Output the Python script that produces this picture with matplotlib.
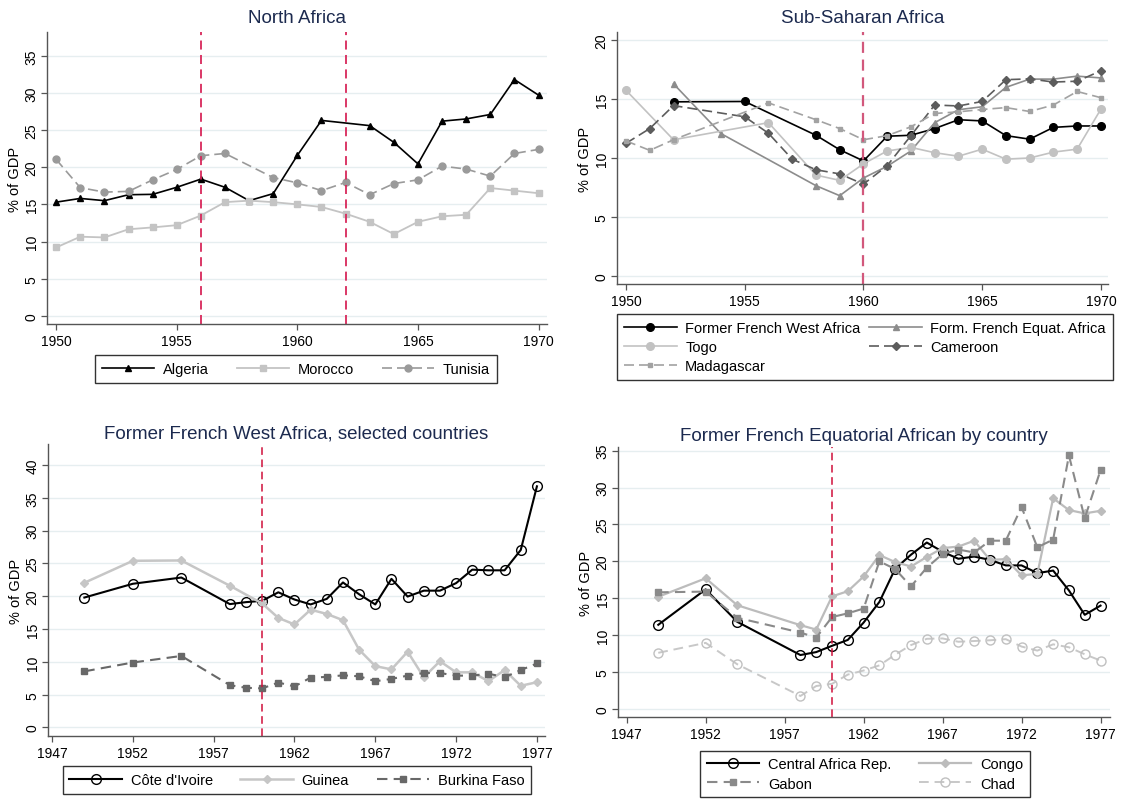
import matplotlib
matplotlib.use("Agg")
import numpy as np
import matplotlib.pyplot as plt

plt.rcParams['font.family'] = ['Liberation Sans', 'DejaVu Sans']

# ---- North Africa ----
na_years = list(range(1950, 1971))
algeria_years = [y for y in na_years if y != 1962]
algeria = [15.3, 15.8, 15.5, 16.3, 16.35, 17.3, 18.4, 17.3, 15.5, 16.45, 21.6, 26.3,
           25.6, 23.35, 20.45, 26.2, 26.5, 27.1, 31.8, 29.7]
morocco = [9.2, 10.65, 10.55, 11.65, 11.9, 12.2, 13.5, 15.3, 15.5, 15.3, 15.0, 14.65,
           13.75, 12.65, 11.0, 12.65, 13.4, 13.6, 17.2, 16.85, 16.5]
tunisia_years = [y for y in na_years if y != 1958]
tunisia = [21.05, 17.25, 16.65, 16.75, 18.3, 19.7, 21.55, 21.85, 18.6, 17.9, 16.85,
           17.95, 16.3, 17.8, 18.3, 20.15, 19.75, 18.8, 21.85, 22.4]

# ---- Sub-Saharan Africa ----
ffwa_years = [1952, 1955, 1958, 1959] + list(range(1960, 1971))
ffwa = [14.77, 14.8, 11.93, 10.7, 9.75, 11.85, 11.93, 12.5, 13.25, 13.15, 11.9, 11.6,
        12.6, 12.72, 12.72]
ffea_years = [1952, 1954, 1958, 1959] + list(range(1960, 1971))
ffea = [16.3, 12.07, 7.65, 6.8, 8.3, 9.3, 10.6, 13.0, 14.1, 14.35, 16.0, 16.7, 16.7,
        16.95, 16.8]
togo_years = [1950, 1952, 1956, 1958, 1959] + list(range(1960, 1971))
togo = [15.75, 11.55, 13.0, 8.55, 8.1, 9.5, 10.6, 10.9, 10.45, 10.15, 10.75, 9.9, 10.0,
        10.5, 10.75, 14.15]
cameroon_years = [1950, 1951, 1952, 1955, 1956, 1957, 1958, 1959] + list(range(1960, 1971))
cameroon = [11.25, 12.5, 14.45, 13.5, 12.1, 9.9, 9.0, 8.65, 7.78, 9.35, 11.9, 14.5,
            14.42, 14.8, 16.65, 16.72, 16.45, 16.52, 17.4]
madagascar_years = [1950, 1951, 1952, 1956, 1958, 1959] + list(range(1960, 1971))
madagascar = [11.45, 10.65, 11.55, 14.68, 13.25, 12.5, 11.55, 11.9, 12.65, 13.78, 13.92,
              14.12, 14.28, 13.95, 14.5, 15.65, 15.12]

# ---- Former French West Africa, selected countries ----
fwa_years = [1949, 1952, 1955] + list(range(1958, 1978))
cote_ivoire = [19.8, 21.9, 22.85, 18.8, 19.1, 19.3, 20.6, 19.5, 18.75, 19.6, 22.1, 20.3,
               18.75, 22.65, 19.95, 20.85, 20.85, 22.0, 24.05, 23.95, 23.95, 27.05, 36.75]
guinea_years = [1949, 1952, 1955, 1958] + list(range(1960, 1978))
guinea = [22.05, 25.4, 25.45, 21.6, 18.9, 16.7, 15.7, 17.95, 17.3, 16.35, 11.85, 9.35,
          8.85, 11.55, 7.65, 10.1, 8.4, 8.4, 7.05, 8.75, 6.35, 6.9]
burkina = [8.55, 9.9, 10.9, 6.45, 6.05, 5.95, 6.85, 6.25, 7.6, 7.7, 7.95, 7.8, 7.05,
           7.4, 7.9, 8.3, 8.3, 7.9, 7.9, 8.2, 7.65, 8.75, 9.75]

# ---- Former French Equatorial Africa by country ----
fea_years = [1949, 1952, 1954] + list(range(1958, 1978))
car = [11.4, 16.2, 11.8, 7.3, 7.7, 8.55, 9.35, 11.7, 14.5, 19.0, 20.9, 22.55, 21.3,
       20.35, 20.65, 20.2, 19.45, 19.45, 18.4, 18.75, 16.05, 12.75, 14.0]
congo = [15.2, 17.7, 14.05, 11.35, 10.75, 15.25, 15.95, 17.95, 20.85, 19.9, 19.3, 20.6,
         21.8, 22.0, 22.8, 20.2, 20.3, 18.1, 18.3, 28.55, 26.95, 26.5, 26.85]
gabon = [15.8, 15.9, 12.35, 10.35, 9.65, 12.45, 12.95, 13.6, 20.0, 18.95, 16.6, 19.15,
         21.0, 21.6, 21.2, 22.8, 22.8, 27.35, 21.9, 22.95, 34.35, 25.85, 32.35]
chad = [7.6, 8.95, 6.05, 1.75, 3.1, 3.4, 4.65, 5.2, 5.9, 7.35, 8.65, 9.5, 9.55, 9.1,
        9.2, 9.3, 9.45, 8.45, 7.9, 8.75, 8.35, 7.4, 6.55]

W, H = 1125, 804
fig = plt.figure(figsize=(W / 100, H / 100), dpi=100)

TITLE_C = '#1c2a4f'
GRID_C = '#e6eef0'


def box(l, t, r, b):
    return [l / W, 1 - b / H, (r - l) / W, (b - t) / H]


def style(ax, xlim, xticks, ylim, yticks):
    ax.set_xlim(*xlim)
    ax.set_ylim(*ylim)
    ax.set_xticks(xticks)
    ax.set_yticks(yticks)
    for s in ['top', 'right']:
        ax.spines[s].set_visible(False)
    for s in ['left', 'bottom']:
        ax.spines[s].set_color('#555555')
        ax.spines[s].set_linewidth(1.0)
    ax.yaxis.grid(True, color=GRID_C, lw=1.0)
    ax.set_axisbelow(True)
    ax.tick_params(direction='out', length=4, width=0.9, color='#555555', labelsize=10)
    ax.tick_params(axis='y', pad=2)
    plt.setp(ax.get_yticklabels(), rotation=90, va='center')
    ax.set_ylabel('% of GDP', fontsize=10.5, labelpad=2)


def leg(handles, cx, cy, ncol, colsp):
    lg = fig.legend(handles=handles, loc='center', bbox_to_anchor=(cx / W, 1 - cy / H),
                    ncol=ncol, fontsize=10.5, frameon=True, fancybox=False,
                    edgecolor='black', handlelength=3.6, columnspacing=colsp,
                    labelspacing=0.35, borderpad=0.45, handletextpad=0.6,
                    borderaxespad=0)
    lg.get_frame().set_linewidth(1.0)


# Panel 1
ax1 = fig.add_axes(box(47, 33, 547, 325))
a1, = ax1.plot(algeria_years, algeria, '-^', color='black', ms=5, lw=1.2, label='Algeria')
m1, = ax1.plot(na_years, morocco, '-s', color='#c4c4c4', ms=5, lw=1.3, label='Morocco')
t1, = ax1.plot(tunisia_years, tunisia, '--o', color='#9a9a9a', ms=5, lw=1.2,
               dashes=(6, 3), label='Tunisia')
for x in [1956, 1962]:
    ax1.axvline(x, color='#d8275a', lw=1.3, ls=(0, (5, 3)))
style(ax1, (1949.62, 1970.35), [1950, 1955, 1960, 1965, 1970], (-1.1, 38.2), range(0, 36, 5))
ax1.set_title('North Africa', fontsize=13.5, color=TITLE_C, pad=7)
leg([a1, m1, t1], 296, 370, 3, 1.9)

# Panel 2
ax2 = fig.add_axes(box(617, 33, 1108, 285))
h_ffwa, = ax2.plot(ffwa_years, ffwa, '-o', color='black', ms=5.5, lw=1.2,
                   label='Former French West Africa')
h_ffea, = ax2.plot(ffea_years, ffea, '-^', color='#8c8c8c', ms=4, lw=1.2,
                   label='Form. French Equat. Africa')
h_togo, = ax2.plot(togo_years, togo, '-o', color='#c2c2c2', ms=5.5, lw=1.2, label='Togo')
h_cam, = ax2.plot(cameroon_years, cameroon, '--D', color='#5c5c5c', ms=4, lw=1.2,
                  dashes=(6, 3), label='Cameroon')
h_mad, = ax2.plot(madagascar_years, madagascar, '--s', color='#a2a2a2', ms=3.5, lw=1.2,
                  dashes=(6, 3), label='Madagascar')
ax2.axvline(1960, color='#d2587c', lw=1.6, ls=(0, (5, 3)))
style(ax2, (1949.62, 1970.3), [1950, 1955, 1960, 1965, 1970], (-0.7, 20.7), range(0, 21, 5))
ax2.set_title('Sub-Saharan Africa', fontsize=13.5, color=TITLE_C, pad=7)
leg([h_ffwa, h_togo, h_mad, h_ffea, h_cam], 865, 348, 2, 0.6)

# Panel 3
ax3 = fig.add_axes(box(48, 445, 545, 737))
c3, = ax3.plot(fwa_years, cote_ivoire, '-o', color='black', mfc='none', mec='black',
               ms=7, lw=1.5, label="Côte d'Ivoire")
g3, = ax3.plot(guinea_years, guinea, '-D', color='#c6c6c6', ms=4.5, lw=1.8, label='Guinea')
b3, = ax3.plot(fwa_years, burkina, '--s', color='#686868', ms=5, lw=1.5,
               dashes=(5, 3), label='Burkina Faso')
ax3.axvline(1960, color='#d0103a', lw=1.1, ls=(0, (5, 3)))
style(ax3, (1946.75, 1977.5), range(1947, 1978, 5), (-1.3, 43.2), range(0, 41, 5))
ax3.set_title('Former French West Africa, selected countries', fontsize=13.5,
              color=TITLE_C, pad=5)
leg([c3, g3, b3], 297, 781, 3, 1.9)

# Panel 4
ax4 = fig.add_axes(box(618, 448, 1110, 718))
c4, = ax4.plot(fea_years, car, '-o', color='black', mfc='none', mec='black', ms=7,
               lw=1.5, label='Central Africa Rep.')
k4, = ax4.plot(fea_years, congo, '-D', color='#bcbcbc', ms=4.5, lw=1.6, label='Congo')
g4, = ax4.plot(fea_years, gabon, '--s', color='#8a8a8a', ms=5, lw=1.5, dashes=(5, 3),
               label='Gabon')
d4, = ax4.plot(fea_years, chad, '--o', color='#c8c8c8', mfc='none', mec='#c0c0c0',
               ms=6.5, lw=1.4, dashes=(5, 3), label='Chad')
ax4.axvline(1960, color='#d0103a', lw=1.1, ls=(0, (5, 3)))
style(ax4, (1946.45, 1977.6), range(1947, 1978, 5), (-1.1, 35.5), range(0, 36, 5))
ax4.set_title('Former French Equatorial African by country', fontsize=13.5,
              color=TITLE_C, pad=5)
leg([c4, g4, k4, d4], 865, 775, 2, 1.9)

fig.savefig('out.png', dpi=100)
